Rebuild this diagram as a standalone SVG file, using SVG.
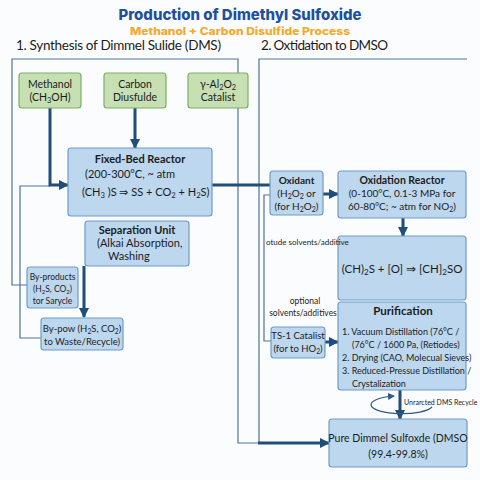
<svg xmlns="http://www.w3.org/2000/svg" width="480" height="480" viewBox="0 0 480 480">
<defs>
<marker id="ah" markerUnits="userSpaceOnUse" markerWidth="10" markerHeight="10" refX="9" refY="5" orient="auto"><path d="M0,0 L10,5 L0,10 Z" fill="#1f4e79"/></marker>
<marker id="ahs" markerUnits="userSpaceOnUse" markerWidth="7" markerHeight="7" refX="6" refY="3.5" orient="auto"><path d="M0,0 L7,3.5 L0,7 Z" fill="#2e5a88"/></marker>
<style>
text{font-family:Lato,"Open Sans","Liberation Sans",sans-serif;fill:#1c1c1c}
.g{fill:#c6e0b4;stroke:#7fae63;stroke-width:1.2}
.b{fill:#bdd7ee;stroke:#6f9cc8;stroke-width:1.2}
.thin{fill:none;stroke:#4f7399;stroke-width:1.2}
.thick{fill:none;stroke:#1f4e79;stroke-width:3}
.c{text-anchor:middle}
.bd{font-weight:bold}
.sub{font-size:70%}
</style>
</defs>
<rect width="480" height="480" fill="#fbfcfd"/>
<text x="240" y="20" class="c bd" style="font-family:Inter,Lato,sans-serif;font-size:15px;fill:#1f4f9f;font-weight:800" textLength="243" lengthAdjust="spacingAndGlyphs">Production of Dimethyl Sulfoxide</text>
<text x="240" y="34.5" class="c bd" style="font-family:Inter,Lato,sans-serif;font-size:10.5px;fill:#f3a92c;font-weight:800" textLength="220" lengthAdjust="spacingAndGlyphs">Methanol + Carbon Disulfide Process</text>
<text x="16" y="50" style="font-size:13.5px" textLength="205">1. Synthesis of Dimmel Sulide (DMS)</text>
<text x="261" y="50" style="font-size:13.5px" textLength="127">2. Oxtidation to DMSO</text>

<g id="connectors">
<path class="thin" d="M27,285 H12 V59 H238 V443 H259"/>
<path class="thin" d="M259,443 V59 H467"/>
<path class="thin" d="M50,186 H20 V338 H41"/>
<path class="thin" d="M270,195 H264 V341 H271"/>
<path class="thick" d="M50,108 V185 H68" marker-end="url(#ah)"/>
<path class="thick" d="M135,108 V148" marker-end="url(#ah)"/>
<path class="thick" d="M212,185 H270"/>
<path class="thick" d="M323,194 H338" marker-end="url(#ah)"/>
<path class="thick" d="M403,218 V236" marker-end="url(#ah)"/>
<path class="thick" d="M84,266 V317" marker-end="url(#ah)"/>
<path class="thick" d="M325,342 H338" marker-end="url(#ah)"/>
<path class="thick" d="M400,390 V419" marker-end="url(#ah)"/>
<path class="thick" d="M258,443 H329" marker-end="url(#ah)"/>
<path d="M432,407 A31 9 0 1 1 394,396" fill="none" stroke="#2e5a88" stroke-width="1.2" marker-end="url(#ahs)"/>
</g>

<g id="methanol"><rect class="g" x="19" y="73" width="62" height="35" rx="3"/>
<text x="50" y="88" class="c" style="font-size:10.5px">Methanol</text>
<text x="50" y="101" class="c" style="font-size:10.5px">(CH<tspan class="sub" dy="2">3</tspan><tspan dy="-2">OH)</tspan></text></g>
<g id="carbon"><rect class="g" x="104" y="73" width="62" height="35" rx="3"/>
<text x="135" y="88" class="c" style="font-size:10.5px">Carbon</text>
<text x="135" y="101" class="c" style="font-size:10.5px">Diusfulde</text></g>
<g id="catalyst"><rect class="g" x="188" y="73" width="60" height="35" rx="3"/>
<text x="218" y="88" class="c" style="font-size:10.5px">γ-Al<tspan class="sub" dy="2">2</tspan><tspan dy="-2">O</tspan><tspan class="sub" dy="2">2</tspan></text>
<text x="218" y="101" class="c" style="font-size:10.5px">Catalist</text></g>

<g id="fixedbed"><rect class="b" x="68" y="148" width="144" height="68" rx="3"/>
<text x="140" y="163" class="c bd" style="font-size:11px">Fixed-Bed Reactor</text>
<text x="85" y="178" style="font-size:11px">(200-300°C, ~ atm</text>
<text x="82" y="196" style="font-size:11px">(CH<tspan class="sub" dy="2">3</tspan><tspan dy="-2"> )S ⇒ SS + CO</tspan><tspan class="sub" dy="2">2</tspan><tspan dy="-2"> + H</tspan><tspan class="sub" dy="2">2</tspan><tspan dy="-2">S)</tspan></text></g>

<g id="separation"><rect class="b" x="85" y="221" width="104" height="45" rx="3"/>
<text x="137" y="234" class="c bd" style="font-size:11px">Separation Unit</text>
<text x="97" y="247" style="font-size:11px">(Alkai Absorption,</text>
<text x="108" y="260" style="font-size:11px">Washing</text></g>

<g id="byproducts"><rect class="b" x="27" y="267" width="51" height="41" rx="3"/>
<text x="52.5" y="280" class="c" style="font-size:8.5px">By-products</text>
<text x="52.5" y="292" class="c" style="font-size:8.5px">(H<tspan class="sub" dy="2">2</tspan><tspan dy="-2">S, CO</tspan><tspan class="sub" dy="2">2</tspan><tspan dy="-2">)</tspan></text>
<text x="52.5" y="304" class="c" style="font-size:8.5px">tor Sarycle</text></g>

<g id="bypow"><rect class="b" x="41" y="318" width="82" height="32" rx="3"/>
<text x="82" y="332" class="c" style="font-size:9.5px">By-pow (H<tspan class="sub" dy="2">2</tspan><tspan dy="-2">S, CO</tspan><tspan class="sub" dy="2">2</tspan><tspan dy="-2">)</tspan></text>
<text x="82" y="345" class="c" style="font-size:9.5px">to Waste/Recycle)</text></g>

<g id="oxidant"><rect class="b" x="270" y="171" width="53" height="44" rx="3"/>
<text x="296.5" y="184" class="c bd" style="font-size:10px">Oxidant</text>
<text x="296.5" y="197" class="c" style="font-size:10px">(H<tspan class="sub" dy="2">2</tspan><tspan dy="-2">O</tspan><tspan class="sub" dy="2">2</tspan><tspan dy="-2"> or</tspan></text>
<text x="296.5" y="210" class="c" style="font-size:10px">(for H<tspan class="sub" dy="2">2</tspan><tspan dy="-2">O</tspan><tspan class="sub" dy="2">2</tspan><tspan dy="-2">)</tspan></text></g>

<g id="oxreactor"><rect class="b" x="338" y="171" width="128" height="47" rx="3"/>
<text x="402" y="184" class="c bd" style="font-size:10.5px">Oxidation Reactor</text>
<text x="402" y="197" class="c" style="font-size:10px">(0-100°C, 0.1-3 MPa for</text>
<text x="402" y="210" class="c" style="font-size:10px">60-80°C; ~ atm for NO<tspan class="sub" dy="2">2</tspan><tspan dy="-2">)</tspan></text></g>

<g id="reaction"><rect class="b" x="338" y="236" width="128" height="64" rx="3"/>
<text x="402" y="273" class="c" style="font-size:11.5px">(CH)<tspan class="sub" dy="2">2</tspan><tspan dy="-2">S + [O] ⇒ [CH]</tspan><tspan class="sub" dy="2">2</tspan><tspan dy="-2">SO</tspan></text></g>

<g id="purification"><rect class="b" x="338" y="302" width="128" height="88" rx="3"/>
<text x="403" y="315" class="c bd" style="font-size:11.5px">Purification</text>
<text x="342" y="335" style="font-size:9px">1. Vacuum Distillation (76°C /</text>
<text x="352" y="348" style="font-size:9px">(76°C / 1600 Pa, (Retiodes)</text>
<text x="342" y="361" style="font-size:9px">2. Drying (CAO, Molecual Sieves)</text>
<text x="342" y="374" style="font-size:9px">3. Reduced-Pressue Distillation /</text>
<text x="352" y="387" style="font-size:9px">Crystalization</text></g>

<g id="ts1"><rect class="b" x="271" y="327" width="54" height="31" rx="3"/>
<text x="298" y="339" class="c" style="font-size:9.5px">TS-1 Catalist</text>
<text x="298" y="352" class="c" style="font-size:9.5px">(for to HO<tspan class="sub" dy="2">2</tspan><tspan dy="-2">)</tspan></text></g>

<g id="pure"><rect class="b" x="329" y="419" width="138" height="48" rx="3"/>
<text x="398" y="442" class="c" style="font-size:10.5px">Pure Dimmel Sulfoxde (DMSO</text>
<text x="398" y="458" class="c" style="font-size:10.5px">(99.4-99.8%)</text></g>

<g id="labels">
<text x="404" y="405" style="font-size:7px">Unrarcted DMS Recycle</text>
<text x="266" y="245" style="font-size:8px">otude solvents/additive</text>
<text x="305" y="304" class="c" style="font-size:8.5px">optional</text>
<text x="303" y="316" class="c" style="font-size:8.5px">solvents/additives</text>
</g>
</svg>
